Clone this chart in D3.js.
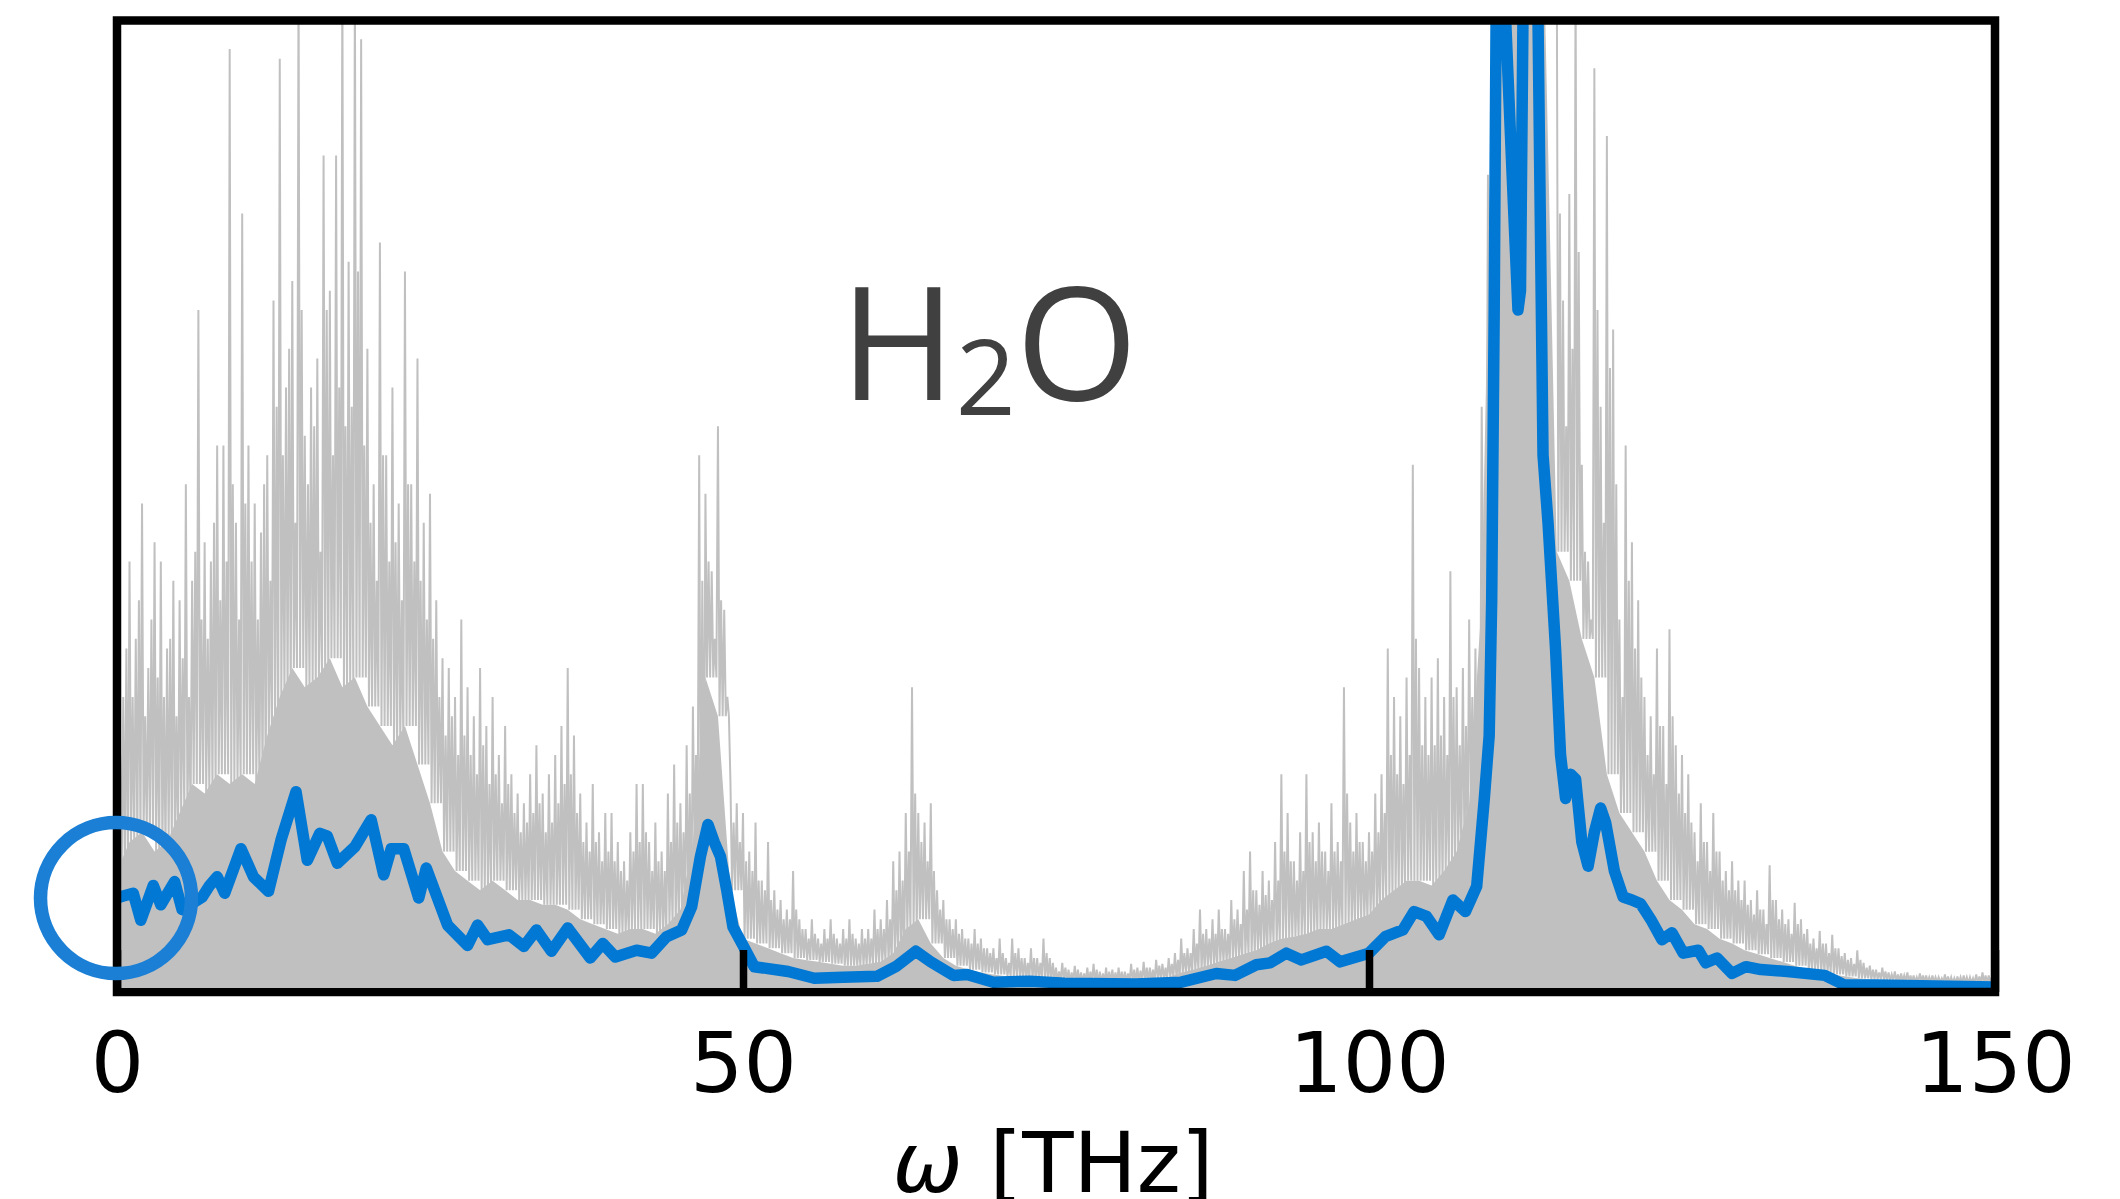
<!DOCTYPE html>
<html lang="en">
<head>
<meta charset="UTF-8">
<title>H2O spectrum</title>
<script src="https://cdnjs.cloudflare.com/ajax/libs/d3/7.8.5/d3.min.js"></script>
<style>
    * { margin: 0; padding: 0; box-sizing: border-box; }
    body { background: #ffffff; width: 2120px; height: 1199px; overflow: hidden; }
    svg { display: block; }
</style>
</head>
<body>
<div id="plot"></div>
<script>
    // x axis ticks
    const tickValues = [0, 50, 100, 150];

    // raw spectrum: tallest spike in each 0.5 THz bin (arb. units, 100 = top of frame)
    const grayStep = 0.5;
    const grayPeaks = [
        28, 30, 44, 36, 50, 33, 46, 44, 35, 42,
        40, 52, 42, 70, 46, 44, 56, 56, 97, 48,
        80, 56, 50, 47, 55, 71, 96, 62, 73, 105,
        57, 62, 65, 86, 72, 86, 105, 75, 105, 98,
        66, 52, 77, 55, 62, 50, 74, 52, 65, 48,
        51, 40, 34, 33, 30, 38, 31, 28, 33, 27,
        30, 24, 27, 22, 20, 19, 22, 25, 20, 22,
        24, 27, 33, 26, 20, 17, 21, 16, 18, 18,
        15, 13, 16, 21, 21, 15, 17, 14, 20, 23,
        19, 25, 29, 55, 51, 43, 58, 39, 21, 19,
        18, 14, 17, 11, 15, 10, 9, 8, 12, 7,
        6, 7, 5, 6, 7, 5, 6, 7, 5, 6,
        6, 8, 7, 9, 13, 14, 18, 31, 18, 17,
        19, 10, 9, 7, 7, 6, 5, 6, 5, 4,
        4, 5, 3, 5, 4, 3, 4, 3, 5, 3,
        2, 2.5, 1.8, 2.2, 1.5, 2, 2.4, 1.6, 2, 1.8,
        2, 1.6, 2.4, 2, 2.6, 2, 2.8, 2.4, 3, 3.5,
        5, 4, 6, 8, 6, 7, 8, 6, 9, 8,
        12, 14, 10, 12, 11, 15, 22, 18, 13, 16,
        22, 16, 17, 14, 19, 15, 31, 17, 18, 15,
        16, 20, 22, 35, 30, 28, 32, 54, 33, 30,
        32, 34, 30, 43, 31, 33, 38, 35, 60, 84,
        105, 105, 105, 105, 105, 105, 105, 105, 105, 105,
        105, 71, 82, 105, 54, 44, 95, 60, 88, 68,
        38, 56, 46, 40, 30, 28, 35, 27, 37, 25,
        24, 22, 16, 19, 15, 18, 14, 12, 13, 11,
        11, 9, 10, 8, 12.6, 9, 8, 7, 8.7, 7,
        6, 5, 5.8, 4.5, 5.4, 4, 3.5, 3, 3.8, 2.5,
        2.2, 1.8, 2, 1.5, 1.6, 1.4, 1.5, 1.2, 1.4, 1.2,
        1.2, 1, 1.3, 1, 1.1, 1.2, 1, 1.3, 1.5, 1.2
    ];

    // second-tier spike in each bin, 0.25 THz after the tallest one
    const graySecond = [
        24, 35, 30, 40, 28, 38, 32, 30, 36, 28,
        34, 30, 45, 38, 36, 48, 40, 44, 52, 38,
        50, 44, 38, 52, 42, 60, 55, 66, 48, 70,
        52, 58, 45, 70, 55, 62, 58, 60, 74, 56,
        48, 42, 55, 44, 46, 40, 52, 44, 42, 38,
        36, 30, 26, 28, 24, 26, 24, 22, 25, 21,
        22, 19, 21, 18, 16, 17, 18, 19, 16, 17,
        19, 21, 22, 18, 15, 14, 15, 13, 14, 13,
        12, 11, 14, 15, 16, 12, 13, 12, 15, 17,
        16, 20, 24, 42, 44, 36, 40, 30, 17, 15,
        13, 12, 11, 10, 9, 8, 7, 7, 8, 6,
        5, 5.5, 4.5, 5, 5.5, 4.5, 5, 5.5, 4.5, 5,
        5, 6, 6, 7, 10, 11, 14, 20, 15, 13,
        12, 8, 7, 6, 5.5, 5, 4.5, 4.5, 4, 3.5,
        3, 3.5, 2.5, 3.5, 3, 2.5, 3, 2.5, 3.5, 2.5,
        1.6, 2, 1.5, 1.8, 1.4, 1.6, 1.8, 1.4, 1.6, 1.5,
        1.6, 1.4, 1.8, 1.7, 2, 1.8, 2.2, 2, 2.4, 2.8,
        3.5, 3.5, 4.5, 5.5, 5, 5.5, 6, 5.5, 7, 6.5,
        8, 10, 8.5, 9.5, 9, 11, 14, 13, 11, 12,
        15, 13, 14, 12, 14, 13, 20, 14, 15, 13,
        14, 16, 18, 24, 22, 21, 24, 36, 25, 24,
        25, 26, 24, 30, 25, 27, 30, 30, 45, 62,
        105, 105, 105, 105, 105, 105, 105, 105, 105, 105,
        80, 58, 66, 76, 45, 38, 70, 48, 64, 52,
        30, 42, 35, 32, 24, 22, 27, 21, 28, 20,
        18, 17, 13, 15, 12, 14, 11, 10, 10, 9,
        8.5, 7.5, 8, 6.5, 9, 7, 6.5, 5.5, 6.5, 5.5,
        4.5, 4, 4.5, 3.5, 4, 3.2, 2.8, 2.4, 2.8, 2,
        1.8, 1.5, 1.6, 1.3, 1.3, 1.2, 1.2, 1, 1.2, 1,
        1, 0.9, 1.1, 0.9, 1, 1, 0.9, 1.1, 1.2, 1
    ];

    // dense lower part of the raw spectrum, one value per THz
    const floorStep = 1;
    const grayFloor = [
        12, 15, 16, 14, 15, 18, 21, 20, 22, 21,
        22, 21, 26, 30, 33, 31, 32, 34, 31, 32,
        29, 27, 25, 27, 23, 19, 14, 12, 11, 10,
        11, 10, 9, 9, 8.5, 8.5, 8, 7, 6.5, 6,
        5.5, 6, 6, 5.5, 6.5, 8, 15, 32, 28, 10,
        5, 4.5, 4, 3.5, 3, 2.8, 2.6, 2.4, 2.2, 2.2,
        2.4, 2.6, 3.5, 6, 7, 4.5, 3, 2.2, 1.8, 1.5,
        1.3, 1.1, 0.9, 0.8, 0.7, 0.6, 0.5, 0.5, 0.4, 0.4,
        0.5, 0.5, 0.6, 0.8, 1, 1.5, 1.8, 2.2, 2.6, 3,
        3.4, 3.8, 4.5, 5, 5.2, 5.5, 6, 6, 6.5, 7,
        7.5, 9, 10, 11, 11, 10.5, 12, 14, 19, 40,
        105, 105, 105, 105, 105, 45, 42, 36, 32, 22,
        18, 16, 14, 11, 9, 8, 6.5, 6, 5, 4.5,
        3.8, 3.4, 3, 2.6, 2.2, 1.8, 1.5, 1.3, 1.1, 0.9,
        0.8, 0.7, 0.6, 0.5, 0.5, 0.5, 0.4, 0.4, 0.4, 0.4, 0.4
    ];

    // smoothed spectrum (blue)
    const blueFreq = [
        0, 0.5, 1.3, 1.9, 2.9, 3.5, 4.6, 5.2, 6.8, 7.4, 8.0, 8.6, 9.9, 10.9, 12.1,
        13.1, 14.3, 15.2, 16.2, 16.8, 17.6, 19.0, 20.3, 21.3, 21.9, 22.9, 24.1, 24.7,
        26.4, 28.0, 28.8, 29.6, 31.3, 32.5, 33.5, 34.7, 36.0, 37.8, 38.8, 39.8, 41.5,
        42.7, 43.9, 45.1, 45.9, 46.6, 47.2, 47.7, 48.2, 48.7, 49.2, 50.0, 50.9, 53.6,
        55.7, 58.0, 60.7, 62.2, 63.8, 65.0, 66.8, 67.9, 70.0, 72.9, 75.7, 81.4, 85.0,
        87.8, 89.3, 91.0, 92.1, 93.4, 94.6, 96.6, 97.7, 100.0, 101.3, 102.7, 103.6,
        104.6, 105.6, 106.7, 107.7, 108.6, 109.2, 109.6, 109.8, 110.0, 110.2, 110.5,
        110.9, 111.4, 111.9, 112.1, 112.3, 112.7, 113.2, 113.5, 113.9, 114.3, 114.9,
        115.3, 115.7, 116.1, 116.5, 117.0, 117.5, 118.0, 118.5, 118.9, 119.6, 120.3,
        121.0, 121.7, 122.5, 123.4, 124.2, 125.1, 126.3, 126.9, 127.8, 129.0, 130.1,
        131.3, 133.4, 136.4, 138.0, 140.6, 150.0
    ];
    const blueVal = [
        9.2, 9.4, 9.7, 6.9, 10.5, 8.5, 10.9, 8.0, 9.3, 10.5, 11.4, 9.7, 14.3, 11.4, 9.9,
        15.2, 20.2, 13.1, 15.9, 15.6, 12.8, 14.5, 17.3, 11.6, 14.3, 14.3, 9.2, 12.3,
        6.4, 4.3, 6.4, 4.9, 5.4, 4.2, 5.9, 3.7, 6.1, 3.0, 4.5, 3.1, 3.8,
        3.5, 5.2, 5.9, 8.3, 13.5, 16.8, 15.0, 13.5, 10.0, 6.2, 4.3, 2.1, 1.6,
        0.9, 1.0, 1.1, 2.1, 3.7, 2.6, 1.2, 1.3, 0.5, 0.6, 0.4, 0.3, 0.5,
        1.4, 1.2, 2.3, 2.5, 3.5, 2.8, 3.7, 2.6, 3.5, 5.2, 5.9, 7.8,
        7.3, 5.4, 9.0, 7.8, 10.4, 19.3, 26, 40, 70, 110, 120,
        100.5, 85, 70, 72, 100.5, 120, 120, 100, 55, 48, 35,
        24, 19.5, 22, 21.5, 15, 12.5, 16, 18.5, 17, 12, 9.3,
        9.0, 8.6, 7.0, 4.9, 5.6, 3.5, 3.8, 2.5, 3.0, 1.4, 2.1,
        1.8, 1.6, 1.2, 0.2, 0.2, 0
    ];

    const W = 2120, H = 1199;
    const frame = {left: 117, right: 1995, top: 20.5, bottom: 992};

    const svg = d3.select("#plot").append("svg")
        .attr("width", W)
        .attr("height", H)
        .attr("viewBox", `0 0 ${W} ${H}`);

    const x = d3.scaleLinear().domain([0, 150]).range([frame.left, frame.right]);
    const y = d3.scaleLinear().domain([0, 100]).range([987, 20]);

    svg.append("defs").append("clipPath")
        .attr("id", "plot-clip")
        .append("rect")
        .attr("x", frame.left)
        .attr("y", frame.top)
        .attr("width", frame.right - frame.left)
        .attr("height", frame.bottom - frame.top);

    const plot = svg.append("g").attr("clip-path", "url(#plot-clip)");

    // raw spectrum: dense floor as an area, spikes as a zigzag line
    const floorAt = f => grayFloor[Math.floor(f / floorStep)];
    plot.append("path")
        .datum(grayFloor.map((v, i) => [i * floorStep, v]))
        .attr("fill", "#c0c0c0")
        .attr("d", d3.area().x(d => x(d[0])).y0(y(0)).y1(d => y(d[1])));

    const grayPts = [];
    grayPeaks.forEach((p, i) => {
        const f = i * grayStep;
        grayPts.push([f, p]);
        grayPts.push([f + grayStep / 4, floorAt(f)]);
        grayPts.push([f + grayStep / 2, graySecond[i]]);
        grayPts.push([f + grayStep * 3 / 4, floorAt(f + grayStep / 2)]);
    });
    plot.append("path")
        .datum(grayPts)
        .attr("fill", "none")
        .attr("stroke", "#c0c0c0")
        .attr("stroke-width", 2)
        .attr("d", d3.line().x(d => x(d[0])).y(d => y(d[1])));

    // smoothed spectrum
    plot.append("path")
        .datum(blueFreq.map((f, i) => [f, blueVal[i]]))
        .attr("fill", "none")
        .attr("stroke", "#0078d4")
        .attr("stroke-width", 11.5)
        .attr("stroke-linejoin", "round")
        .attr("stroke-linecap", "round")
        .attr("d", d3.line().x(d => x(d[0])).y(d => y(d[1])));

    // frame
    svg.append("rect")
        .attr("x", frame.left)
        .attr("y", frame.top)
        .attr("width", frame.right - frame.left)
        .attr("height", frame.bottom - frame.top)
        .attr("fill", "none")
        .attr("stroke", "#000")
        .attr("stroke-width", 8.5);

    // x axis, ticks pointing inward
    const xAxis = svg.append("g")
        .attr("transform", `translate(0,${frame.bottom})`)
        .call(d3.axisBottom(x).tickValues(tickValues).tickSizeInner(-42).tickSizeOuter(0).tickFormat(d3.format("d")));
    xAxis.select(".domain").remove();
    xAxis.selectAll(".tick line").attr("stroke", "#000").attr("stroke-width", 7.5);
    xAxis.selectAll(".tick text")
        .attr("y", 100)
        .attr("dy", 0)
        .attr("fill", "#000")
        .style("font-family", "'DejaVu Sans', sans-serif")
        .style("font-size", "84px");

    // axis label (cut by the bottom edge, as in the original figure)
    const xl = svg.append("text")
        .attr("x", (frame.left + frame.right) / 2 - 3)
        .attr("y", 1192)
        .attr("text-anchor", "middle")
        .attr("fill", "#000")
        .style("font-family", "'DejaVu Sans', sans-serif")
        .style("font-size", "84px");
    xl.append("tspan").style("font-style", "italic").text("ω");
    xl.append("tspan").text(" [THz]");

    // molecule label
    const lbl = svg.append("text")
        .attr("x", 840)
        .attr("y", 400)
        .attr("fill", "#404040")
        .style("font-family", "'Open Sans', sans-serif")
        .style("font-size", "157px");
    lbl.append("tspan").text("H");
    lbl.append("tspan").attr("dy", 15).style("font-size", "105px").text("2");
    lbl.append("tspan").attr("dy", -15).text("O");

    // highlight circle at the low-frequency end
    svg.append("circle")
        .attr("cx", x(0) - 1)
        .attr("cy", y(blueVal[0]))
        .attr("r", 75.5)
        .attr("fill", "none")
        .attr("stroke", "#1b7fd5")
        .attr("stroke-width", 13.5);
</script>
</body>
</html>
